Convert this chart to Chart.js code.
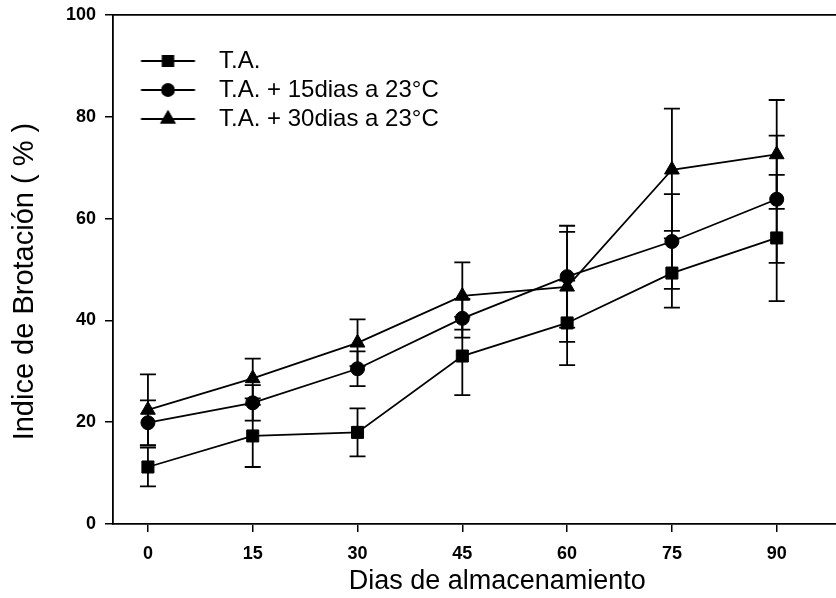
<!DOCTYPE html>
<html>
<head>
<meta charset="utf-8">
<script src="https://cdn.jsdelivr.net/npm/chart.js@4/dist/chart.umd.min.js"></script>
<style>
  html, body { margin: 0; padding: 0; background: #fff; overflow: hidden; }
  #wrap { width: 836px; height: 598px; overflow: hidden; }
</style>
</head>
<body>
<div id="wrap"><canvas id="chart" width="891" height="598"></canvas></div>
<script>
// dias de almacenamiento
const days = [0, 15, 30, 45, 60, 75, 90];
const xTicks = [0, 15, 30, 45, 60, 75, 90];
const yTicks = [0, 20, 40, 60, 80, 100];

const seriesNames = ['T.A.', 'T.A. + 15dias a 23°C', 'T.A. + 30dias a 23°C'];

// indice de brotacion (%) y error
const ta      = [11.2, 17.3, 18.0, 33.0, 39.5, 49.3, 56.2];
const taErr   = [3.8, 6.1, 4.7, 7.7, 8.3, 6.8, 12.4];
const ta15    = [19.9, 23.8, 30.5, 40.4, 48.6, 55.5, 63.8];
const ta15Err = [4.4, 3.5, 3.4, 3.8, 10.0, 9.3, 12.5];
const ta30    = [22.4, 28.6, 35.6, 44.8, 46.6, 69.6, 72.6];
const ta30Err = [7.0, 3.9, 4.6, 6.6, 10.8, 12.0, 10.7];

const values = [ta, ta15, ta30];
const errors = [taErr, ta15Err, ta30Err];
const styles = ['rect', 'circle', 'triangle'];
const radii = [8.5, 7, 8.5];

const FONT = '"Liberation Sans", Arial, Helvetica, sans-serif';

// icono de leyenda: linea con marcador
function makeIcon(style, r) {
    const c = document.createElement('canvas');
    c.width = 80; c.height = 20;
    const g = c.getContext('2d');
    g.strokeStyle = '#000'; g.fillStyle = '#000'; g.lineWidth = 1.8;
    g.beginPath(); g.moveTo(18.5, 10); g.lineTo(72.5, 10); g.stroke();
    if (Chart.helpers && Chart.helpers.drawPoint) {
        Chart.helpers.drawPoint(g, { pointStyle: style, radius: r, borderWidth: 1, rotation: 0 }, 45.5, 10);
        g.fill(); g.stroke();
    }
    return c;
}

const errorBars = {
    id: 'errorBars',
    beforeDatasetsDraw(chart) {
        const { ctx, scales: { x, y } } = chart;
        ctx.save();
        ctx.strokeStyle = '#000';
        ctx.lineWidth = 1.8;
        chart.data.datasets.forEach((ds, di) => {
            ds.data.forEach((p, i) => {
                const e = errors[di][i];
                const px = x.getPixelForValue(p.x);
                const top = y.getPixelForValue(p.y + e);
                const bot = y.getPixelForValue(p.y - e);
                ctx.beginPath();
                ctx.moveTo(px, top); ctx.lineTo(px, bot);
                ctx.moveTo(px - 8, top); ctx.lineTo(px + 8, top);
                ctx.moveTo(px - 8, bot); ctx.lineTo(px + 8, bot);
                ctx.stroke();
            });
        });
        ctx.restore();
    }
};

document.addEventListener('DOMContentLoaded', function() {
    const icons = styles.map((s, i) => makeIcon(s, radii[i] * 0.85));

    const datasets = seriesNames.map((name, i) => ({
        label: name,
        data: days.map((d, j) => ({ x: d, y: values[i][j] })),
        borderColor: '#000',
        backgroundColor: '#000',
        borderWidth: 1.8,
        pointStyle: styles[i],
        pointRadius: radii[i],
        pointBackgroundColor: '#000',
        pointBorderColor: '#000',
        pointBorderWidth: 1,
        tension: 0,
        fill: false
    }));

    new Chart(document.getElementById('chart'), {
        type: 'line',
        data: { datasets: datasets },
        plugins: [errorBars],
        options: {
            responsive: false,
            animation: false,
            events: [],
            layout: { padding: { top: 15, left: 0, right: 0, bottom: 0 } },
            plugins: {
                tooltip: { enabled: false },
                legend: {
                    position: 'chartArea',
                    align: 'start',
                    title: { display: true, text: '', font: { size: 10, lineHeight: 1.2 }, padding: { top: 32, bottom: 0 } },
                    labels: {
                        usePointStyle: true,
                        pointStyleWidth: 89,
                        padding: 5,
                        color: '#000',
                        font: { family: FONT, size: 24 },
                        generateLabels: chart => chart.data.datasets.map((ds, i) => ({
                            text: ds.label,
                            pointStyle: icons[i],
                            fillStyle: '#000',
                            strokeStyle: '#000',
                            lineWidth: 0,
                            fontColor: '#000',
                            datasetIndex: i
                        }))
                    }
                }
            },
            scales: {
                x: {
                    type: 'linear',
                    position: 'bottom',
                    min: -5,
                    max: 105,
                    afterBuildTicks: s => { s.ticks = xTicks.map(v => ({ value: v })); },
                    afterFit: s => { s.height = 74; s.paddingLeft = 0; s.paddingRight = 0; },
                    grid: { drawOnChartArea: false, drawTicks: true, tickLength: 8, color: '#000', lineWidth: 1.5 },
                    border: { display: true, color: '#000', width: 1.8 },
                    ticks: { color: '#000', padding: 11, maxRotation: 0, font: { family: FONT, size: 18, weight: 'bold' } },
                    title: { display: true, text: 'Dias de almacenamiento', color: '#000', font: { family: FONT, size: 27 }, padding: { top: 0, bottom: 0 } }
                },
                xTop: {
                    type: 'linear',
                    position: 'top',
                    min: -5,
                    max: 105,
                    afterFit: s => { s.height = 0; s.paddingLeft = 0; s.paddingRight = 0; },
                    grid: { drawOnChartArea: false, drawTicks: false },
                    border: { display: true, color: '#000', width: 1.8 },
                    ticks: { display: false }
                },
                y: {
                    min: 0,
                    max: 100,
                    afterBuildTicks: s => { s.ticks = yTicks.map(v => ({ value: v })); },
                    afterFit: s => { s.width = 113; s.paddingTop = 0; s.paddingBottom = 0; },
                    grid: { drawOnChartArea: false, drawTicks: true, tickLength: 8, color: '#000', lineWidth: 1.5 },
                    border: { display: true, color: '#000', width: 1.8 },
                    ticks: { color: '#000', padding: 9, font: { family: FONT, size: 18, weight: 'bold' } },
                    title: { display: true, text: 'Indice de Brotación ( % )   ', color: '#000', font: { family: FONT, size: 29 }, padding: { top: 8, bottom: 0 } }
                }
            }
        }
    });
});
</script>
</body>
</html>
